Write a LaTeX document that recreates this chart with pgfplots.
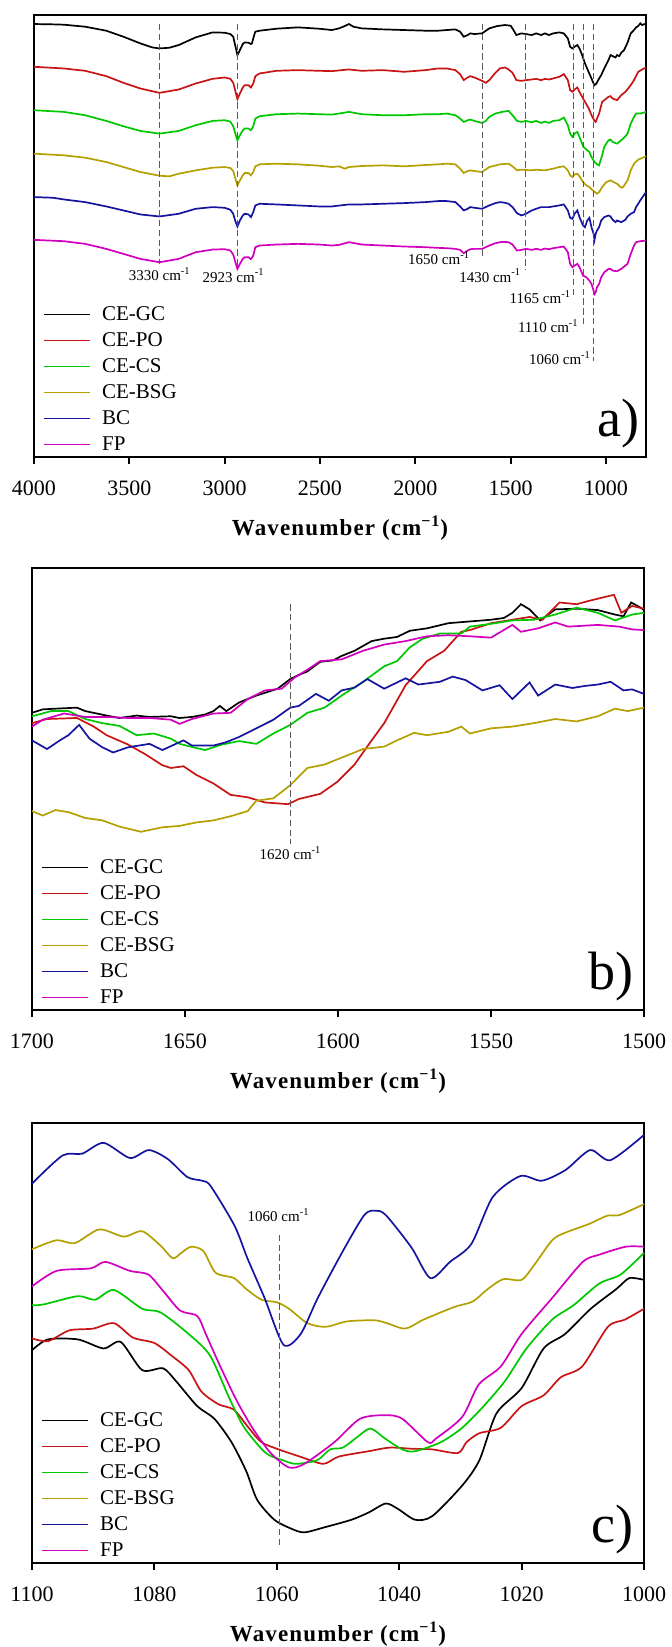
\documentclass[border=0pt]{standalone}
\usepackage{fontspec}
\setmainfont{Liberation Serif}
\usepackage{pgfplots}
\pgfplotsset{compat=1.18}

\definecolor{cgc}{RGB}{0,0,0}
\definecolor{cpo}{RGB}{200,20,20}
\definecolor{ccs}{RGB}{0,200,0}
\definecolor{cbsg}{RGB}{180,160,0}
\definecolor{cbc}{RGB}{20,20,160}
\definecolor{cfp}{RGB}{210,0,190}

\tikzset{
  peak/.style={font=\fontsize{7.5}{9}\selectfont, inner sep=0pt},
  panel/.style={font=\fontsize{27}{30}\selectfont, inner sep=0pt, anchor=south east},
  mark line/.style={black!65, line width=0.5pt, dash pattern=on 3.2pt off 1.7pt},
}

\pgfplotsset{
  ftir/.style={
    scale only axis, width=306pt,
    x dir=reverse, y dir=reverse,
    ytick=\empty,
    axis line style={line width=1pt},
    xtick pos=lower, xtick align=outside, major tick length=3.5pt,
    tick style={line width=1pt, black},
    xticklabel style={font=\fontsize{11}{13}\selectfont, yshift=-5pt},
    /pgf/number format/assume math mode=true,
    /pgf/number format/1000 sep={},
    scaled x ticks=false,
    clip=false,
    xlabel={Wavenumber (cm\textsuperscript{−1})},
    xlabel style={at={(axis description cs:0.5,0)}, anchor=center, yshift=-35.5pt,
      font=\fontsize{11.5}{14}\selectfont\bfseries\addfontfeatures{LetterSpace=5}},
    legend style={at={(0,0)}, anchor=south west, xshift=4.3pt, yshift=1.75pt,
      draw=none, fill=none, inner sep=0pt, row sep=4.5pt,
      font=\fontsize{10.5}{12}\selectfont,
      nodes={inner sep=0pt, text height=7pt, text depth=1.5pt},
      /tikz/every odd column/.append style={column sep=5.7pt}},
    legend cell align=left,
    legend image code/.code={\draw[##1] (0pt,0pt) -- (23pt,0pt);},
    every axis plot/.append style={line width=0.85pt, mark=none},
  },
}

\begin{document}
\begin{tikzpicture}
\useasboundingbox (0,0) rectangle (335.5pt,-823.5pt);

% ---------------- a) full range
\begin{axis}[ftir, height=221pt, at={(17pt,-228.5pt)}, anchor=south west,
  xmin=790, xmax=4000, ymin=45, ymax=1368,
  xtick={1000,1500,2000,2500,3000,3500,4000}]
\addplot[cgc] coordinates {(4000,72) (3900,73) (3844,74) (3732,80) (3621,92) (3531,110) (3442,130) (3380,142) (3342,145) (3290,143) (3241,135) (3152,112) (3063,97) (3000,98) (2970,102) (2955,110) (2945,135) (2933,165) (2920,150) (2905,132) (2895,127) (2875,128) (2862,132) (2857,130) (2845,105) (2839,95) (2817,92) (2728,86) (2616,82) (2505,86) (2438,90) (2400,85) (2370,78) (2348,72) (2325,80) (2281,85) (2170,88) (2058,90) (1947,92) (1880,92) (1835,90) (1790,88) (1765,95) (1746,110) (1725,105) (1712,100) (1690,102) (1650,100) (1612,85) (1570,78) (1530,75) (1500,77) (1485,90) (1470,105) (1444,100) (1420,102) (1389,105) (1366,100) (1340,105) (1320,100) (1299,105) (1277,100) (1245,97) (1221,100) (1200,115) (1188,140) (1176,145) (1165,140) (1150,135) (1139,145) (1125,165) (1110,190) (1095,210) (1076,235) (1065,250) (1060,255) (1050,250) (1036,235) (1025,225) (1009,205) (987,180) (976,165) (965,168) (950,172) (942,165) (930,168) (920,158) (905,150) (887,128) (870,100) (853,90) (842,82) (831,78) (820,70) (810,75) (797,72) (790,74)};
\addlegendentry{CE-GC}
\addplot[cpo] coordinates {(4000,200) (3844,205) (3732,212) (3621,228) (3531,248) (3442,265) (3342,278) (3241,268) (3152,250) (3063,236) (3000,232) (2970,236) (2955,248) (2945,270) (2933,297) (2920,280) (2905,262) (2895,255) (2875,255) (2862,262) (2850,250) (2839,228) (2817,220) (2728,212) (2616,210) (2505,212) (2438,213) (2348,208) (2281,212) (2170,210) (2058,215) (1947,210) (1880,205) (1835,205) (1790,210) (1765,222) (1746,240) (1725,232) (1712,228) (1690,232) (1650,242) (1630,248) (1612,240) (1580,218) (1556,205) (1530,202) (1511,208) (1490,218) (1470,240) (1444,242) (1420,240) (1389,238) (1366,236) (1340,240) (1320,236) (1299,238) (1277,235) (1245,230) (1221,222) (1200,240) (1188,270) (1176,275) (1165,268) (1150,262) (1139,275) (1120,295) (1105,310) (1090,325) (1076,345) (1060,362) (1054,365) (1047,355) (1036,340) (1020,305) (1009,300) (987,290) (976,288) (965,295) (942,300) (920,285) (898,275) (870,255) (853,240) (831,215) (810,208) (790,202)};
\addlegendentry{CE-PO}
\addplot[ccs] coordinates {(4000,330) (3844,335) (3732,345) (3621,362) (3531,378) (3442,392) (3342,400) (3241,392) (3152,375) (3063,362) (3000,360) (2970,364) (2955,378) (2945,398) (2933,420) (2920,405) (2905,390) (2895,385) (2875,385) (2862,390) (2850,378) (2839,355) (2817,348) (2728,342) (2616,340) (2505,342) (2438,343) (2400,340) (2348,335) (2281,342) (2170,345) (2058,345) (1947,342) (1880,342) (1835,340) (1790,345) (1765,355) (1746,365) (1725,360) (1712,358) (1690,362) (1650,368) (1630,362) (1612,350) (1580,340) (1545,335) (1511,332) (1490,345) (1467,362) (1444,365) (1420,362) (1389,366) (1366,362) (1340,368) (1320,364) (1299,368) (1277,362) (1245,360) (1221,352) (1200,375) (1188,400) (1176,410) (1165,400) (1150,395) (1139,410) (1120,438) (1103,448) (1087,455) (1076,470) (1060,485) (1047,492) (1036,495) (1031,485) (1020,465) (1009,440) (987,420) (976,418) (965,425) (942,430) (920,420) (898,408) (887,400) (870,370) (853,350) (842,340) (820,340) (790,335)};
\addlegendentry{CE-CS}
\addplot[cbsg] coordinates {(4000,460) (3844,465) (3732,472) (3621,485) (3531,500) (3442,515) (3342,526) (3290,528) (3241,520) (3152,510) (3063,502) (3000,500) (2970,503) (2955,512) (2945,532) (2933,555) (2920,540) (2905,525) (2895,518) (2875,518) (2862,525) (2850,515) (2839,498) (2817,492) (2728,490) (2616,492) (2505,496) (2438,500) (2400,498) (2370,505) (2348,500) (2281,497) (2170,495) (2058,498) (1947,494) (1880,492) (1835,490) (1790,492) (1765,505) (1746,518) (1725,512) (1712,510) (1690,512) (1650,515) (1612,500) (1556,492) (1511,490) (1490,498) (1467,510) (1444,508) (1389,510) (1366,508) (1320,510) (1277,505) (1245,500) (1221,498) (1200,510) (1188,525) (1176,530) (1165,522) (1150,520) (1139,528) (1120,545) (1103,555) (1087,560) (1065,572) (1047,580) (1036,575) (1020,560) (998,545) (976,540) (960,545) (942,550) (920,562) (910,560) (887,540) (870,510) (853,490) (831,478) (790,468)};
\addlegendentry{CE-BSG}
\addplot[cbc] coordinates {(4000,590) (3900,592) (3844,597) (3732,605) (3621,618) (3531,630) (3442,642) (3342,648) (3241,640) (3152,625) (3063,620) (3000,622) (2970,628) (2955,640) (2945,660) (2933,678) (2920,660) (2905,645) (2895,640) (2875,642) (2862,650) (2850,635) (2839,615) (2817,610) (2728,612) (2616,615) (2505,618) (2438,618) (2348,612) (2281,612) (2170,610) (2058,608) (1947,605) (1880,602) (1835,602) (1790,605) (1765,618) (1746,630) (1725,625) (1712,620) (1690,622) (1650,625) (1612,615) (1580,608) (1556,605) (1530,607) (1511,610) (1490,620) (1467,638) (1444,645) (1420,640) (1389,630) (1366,625) (1340,620) (1299,620) (1277,618) (1245,615) (1221,612) (1200,630) (1188,652) (1176,655) (1165,640) (1150,630) (1139,650) (1120,675) (1110,680) (1098,660) (1087,652) (1076,680) (1065,700) (1060,718) (1054,700) (1047,690) (1036,680) (1025,660) (1009,650) (987,645) (976,648) (965,658) (950,665) (942,660) (920,665) (898,658) (887,648) (870,640) (853,635) (842,620) (820,600) (790,575)};
\addlegendentry{BC}
\addplot[cfp] coordinates {(4000,718) (3844,722) (3732,730) (3621,745) (3531,760) (3442,775) (3342,785) (3241,775) (3152,755) (3063,747) (3000,746) (2970,750) (2955,762) (2945,782) (2933,805) (2920,790) (2905,775) (2895,770) (2875,770) (2862,776) (2850,765) (2839,740) (2817,735) (2728,732) (2616,730) (2505,732) (2438,735) (2400,733) (2348,725) (2281,732) (2170,735) (2058,738) (1947,740) (1880,742) (1835,743) (1790,745) (1765,748) (1746,758) (1725,750) (1712,746) (1690,745) (1650,745) (1612,735) (1580,728) (1545,724) (1511,725) (1490,732) (1467,750) (1444,748) (1420,745) (1389,748) (1366,745) (1340,748) (1320,744) (1299,746) (1277,743) (1245,740) (1221,738) (1200,755) (1188,790) (1176,800) (1165,795) (1150,790) (1139,800) (1120,825) (1103,830) (1087,840) (1076,850) (1065,870) (1060,880) (1054,875) (1047,860) (1036,850) (1025,830) (1009,815) (987,805) (976,805) (965,810) (942,812) (920,805) (898,795) (887,790) (870,760) (853,735) (842,725) (820,722) (790,720)};
\addlegendentry{FP}
\addplot[mark line, forget plot] coordinates {(3340,72) (3340,790)};
\addplot[mark line, forget plot] coordinates {(2930,72) (2930,800)};
\addplot[mark line, forget plot] coordinates {(1650,72) (1650,765)};
\addplot[mark line, forget plot] coordinates {(1420,72) (1420,808)};
\addplot[mark line, forget plot] coordinates {(1170,72) (1170,885)};
\addplot[mark line, forget plot] coordinates {(1116,72) (1116,970)};
\addplot[mark line, forget plot] coordinates {(1063,72) (1063,1080)};
\node[peak] at (axis cs:3340,820) {3330 cm\textsuperscript{-1}};
\node[peak] at (axis cs:2953,825) {2923 cm\textsuperscript{-1}};
\node[peak] at (axis cs:1875,772) {1650 cm\textsuperscript{-1}};
\node[peak] at (axis cs:1607,825) {1430 cm\textsuperscript{-1}};
\node[peak] at (axis cs:1344,888) {1165 cm\textsuperscript{-1}};
\node[peak] at (axis cs:1302,975) {1110 cm\textsuperscript{-1}};
\node[peak] at (axis cs:1241,1072) {1060 cm\textsuperscript{-1}};
\node[panel] at (axis description cs:1,0) [xshift=-3pt, yshift=4.5pt] {a)};
\end{axis}

% ---------------- b) 1700-1500
\begin{axis}[ftir, height=221pt, at={(16pt,-505pt)}, anchor=south west,
  xmin=1500, xmax=1700, ymin=140, ymax=1422,
  xtick={1500,1550,1600,1650,1700}]
\addplot[cgc] coordinates {(1700,560) (1696.5,550) (1692.3,548) (1685.3,545) (1682.6,555) (1675.6,568) (1671.4,575) (1665.8,568) (1661.6,572) (1654.6,570) (1651.8,575) (1647.7,572) (1643.5,565) (1640.7,555) (1638.6,540) (1636.5,555) (1632.3,530) (1626.7,510) (1619.7,490) (1615.6,462) (1612.8,450) (1610.0,440) (1605.8,412) (1601.6,408) (1598.8,395) (1594.6,380) (1589.0,352) (1584.9,345) (1580.7,340) (1576.5,322) (1570.9,315) (1563.9,300) (1556.9,295) (1550.0,290) (1545.8,285) (1543.0,270) (1540.2,245) (1537.4,260) (1533.9,292) (1529.0,260) (1522.0,258) (1515.1,262) (1509.5,275) (1506.7,280) (1504.2,240) (1501.1,255) (1500,262)};
\addlegendentry{CE-GC}
\addplot[cpo] coordinates {(1700,590) (1695.1,578) (1685.3,575) (1679.8,600) (1675.6,625) (1668.6,652) (1663.0,680) (1657.4,712) (1654.6,720) (1650.5,715) (1646.3,740) (1640.7,765) (1635.1,798) (1629.5,805) (1623.9,820) (1616.3,825) (1612.8,810) (1605.8,795) (1600.2,760) (1594.6,710) (1589.0,640) (1584.9,590) (1577.9,480) (1570.9,410) (1565.3,380) (1559.7,325) (1556.9,320) (1550.0,300) (1543.0,290) (1537.4,282) (1533.2,290) (1527.6,240) (1522.0,245) (1517.9,235) (1510.9,220) (1509.8,218) (1507.4,270) (1503.9,250) (1500,258)};
\addlegendentry{CE-PO}
\addplot[ccs] coordinates {(1700,570) (1693.7,555) (1688.1,555) (1682.6,578) (1677.0,590) (1671.4,598) (1665.8,625) (1660.2,620) (1654.6,635) (1651.8,650) (1646.3,662) (1643.5,668) (1637.9,652) (1632.3,642) (1626.7,650) (1621.1,620) (1615.6,595) (1610.0,560) (1604.4,545) (1598.8,510) (1591.8,470) (1584.9,425) (1580.7,410) (1576.5,370) (1572.3,345) (1566.7,330) (1559.7,330) (1556.9,310) (1550.0,302) (1543.0,292) (1536.0,290) (1529.0,275) (1522.0,255) (1515.1,270) (1509.5,292) (1503.9,275) (1500,270)};
\addlegendentry{CE-CS}
\addplot[cbsg] coordinates {(1700,845) (1696.5,858) (1692.3,842) (1688.1,848) (1682.6,865) (1677.0,872) (1671.4,890) (1664.4,905) (1657.4,892) (1651.8,888) (1646.3,878) (1640.7,872) (1635.1,860) (1629.5,845) (1626.7,815) (1621.1,808) (1615.6,770) (1610.0,720) (1604.4,710) (1598.8,690) (1591.8,665) (1584.9,658) (1580.7,640) (1575.1,618) (1570.9,625) (1563.9,615) (1559.7,600) (1556.9,620) (1550.0,605) (1543.0,600) (1536.0,590) (1529.0,578) (1522.0,585) (1515.1,570) (1509.5,548) (1505.3,555) (1500,545)};
\addlegendentry{CE-BSG}
\addplot[cbc] coordinates {(1700,640) (1695.1,665) (1690.9,640) (1688.1,625) (1684.6,595) (1681.2,635) (1677.0,660) (1673.5,675) (1668.6,660) (1661.6,650) (1657.4,668) (1650.5,640) (1647.7,655) (1640.7,655) (1636.5,645) (1632.3,630) (1626.7,605) (1621.1,580) (1615.6,545) (1612.8,540) (1607.2,505) (1603.0,525) (1598.8,495) (1594.6,487) (1590.4,462) (1584.9,490) (1577.9,460) (1573.7,478) (1566.7,470) (1562.5,455) (1558.3,465) (1552.8,495) (1547.2,480) (1543.0,520) (1537.4,472) (1534.6,510) (1529.0,478) (1523.4,488) (1519.3,482) (1515.1,478) (1510.9,470) (1506.7,495) (1503.9,492) (1500,505)};
\addlegendentry{BC}
\addplot[cfp] coordinates {(1700,600) (1696.5,580) (1689.5,562) (1682.6,572) (1675.6,572) (1668.6,575) (1661.6,575) (1654.6,580) (1651.8,592) (1647.7,578) (1640.7,562) (1635.1,560) (1629.5,520) (1623.9,495) (1618.4,490) (1614.2,458) (1610.0,435) (1605.8,410) (1598.8,405) (1591.8,380) (1584.9,362) (1577.9,352) (1570.9,338) (1563.9,335) (1556.9,338) (1550.0,342) (1543.0,305) (1540.2,325) (1534.6,315) (1529.0,298) (1524.8,310) (1515.1,305) (1508.1,310) (1503.9,318) (1500,320)};
\addlegendentry{FP}
\addplot[mark line, forget plot] coordinates {(1615.5,245) (1615.5,940)};
\node[peak] at (axis cs:1615.5,968) {1620 cm\textsuperscript{-1}};
\node[panel] at (axis description cs:1,0) [xshift=-5pt, yshift=4.5pt] {b)};
\end{axis}

% ---------------- c) 1100-1000
\begin{axis}[ftir, height=220pt, at={(16pt,-781.5pt)}, anchor=south west,
  xmin=1000, xmax=1100, ymin=115, ymax=1335,
  xtick={1000,1020,1040,1060,1080,1100},
  every axis plot/.append style={smooth, tension=0.45}]
\addplot[cgc] coordinates {(1100,745) (1097.4,715) (1092.5,715) (1088.3,740) (1085.5,722) (1082,800) (1078.6,795) (1076.5,830) (1073,900) (1070.2,935) (1067.4,1000) (1065,1080) (1063.2,1160) (1060.4,1215) (1057.6,1240) (1055.5,1250) (1052,1235) (1047.8,1215) (1045,1195) (1042.2,1170) (1040.2,1185) (1037.4,1215) (1034.6,1205) (1029.7,1120) (1026.9,1050) (1024.1,920) (1020,850) (1016.4,740) (1012.9,700) (1008.7,630) (1004.5,575) (1002.4,545) (1000,550)};
\addlegendentry{CE-GC}
\addplot[cpo] coordinates {(1100,712) (1097.4,720) (1093.9,690) (1090,685) (1086.6,670) (1083.5,710) (1080,725) (1077.2,760) (1074.4,800) (1072.3,860) (1069.5,895) (1067,910) (1064.6,960) (1062.5,1000) (1059.7,1020) (1056.2,1040) (1052.4,1060) (1049.9,1040) (1045,1025) (1041.6,1015) (1038,1018) (1034.6,1020) (1030.4,1030) (1029,1000) (1026.9,975) (1023.4,960) (1020,900) (1016.4,870) (1013.6,820) (1010.1,790) (1005.9,680) (1003.1,660) (1000,630)};
\addlegendentry{CE-PO}
\addplot[ccs] coordinates {(1100,620) (1098.1,618) (1092.5,595) (1089.7,605) (1086.6,578) (1082,630) (1079,640) (1074.4,700) (1070.9,760) (1067.7,880) (1065.3,960) (1061.8,1030) (1059,1050) (1056.9,1060) (1053.4,1050) (1051.3,1020) (1049.2,1015) (1046.8,985) (1044.7,962) (1042.3,990) (1039.5,1020) (1037.4,1025) (1033.2,1000) (1029.7,960) (1026.2,900) (1022.7,830) (1019.2,740) (1015,660) (1011.5,620) (1007.3,560) (1003.8,535) (1000,475)};
\addlegendentry{CE-CS}
\addplot[cbsg] coordinates {(1100,465) (1096,440) (1093,448) (1089,410) (1085,430) (1082,415) (1079,455) (1077,490) (1075.6,475) (1074,458) (1072,470) (1070,530) (1067,545) (1065,575) (1062.5,605) (1060,612) (1058,630) (1055,670) (1052,680) (1048.5,665) (1044,662) (1042,670) (1039,685) (1036,660) (1031,625) (1028,610) (1025.5,575) (1023,548) (1020,550) (1018,510) (1015,440) (1013,420) (1009,395) (1006,372) (1004,370) (1000,340)};
\addlegendentry{CE-BSG}
\addplot[cbc] coordinates {(1100,283) (1095,205) (1091.8,200) (1088.3,170) (1084,212) (1080.9,190) (1077.8,215) (1074.6,265) (1072.2,275) (1070.8,290) (1066.9,400) (1064.8,490) (1062,600) (1058.9,730) (1056.1,700) (1053.3,600) (1049.2,470) (1045.7,370) (1043.9,358) (1042.2,370) (1038,460) (1034.9,545) (1031.7,500) (1028.2,450) (1024.7,320) (1020.2,262) (1016.7,275) (1012.8,245) (1008.8,190) (1005.5,218) (1000,148)};
\addlegendentry{BC}
\addplot[cfp] coordinates {(1100,568) (1096,525) (1090.4,518) (1088,500) (1084,525) (1081,535) (1078.6,580) (1075.8,635) (1073,650) (1071.6,700) (1069.5,780) (1066.7,880) (1064,960) (1061,1030) (1058,1070) (1055.5,1060) (1050.6,1000) (1046.4,935) (1042.2,925) (1039.5,935) (1035.3,1000) (1034,990) (1029.7,930) (1027,840) (1023.4,790) (1020,700) (1015,600) (1010,500) (1007.3,480) (1003,458) (1000,458)};
\addlegendentry{FP}
\addplot[mark line, forget plot, smooth=false] coordinates {(1059.5,425) (1059.5,1290)};
\node[peak] at (axis cs:1059.7,370) {1060 cm\textsuperscript{-1}};
\node[panel] at (axis description cs:1,0) [xshift=-5pt, yshift=4.5pt] {c)};
\end{axis}
\end{tikzpicture}
\end{document}
